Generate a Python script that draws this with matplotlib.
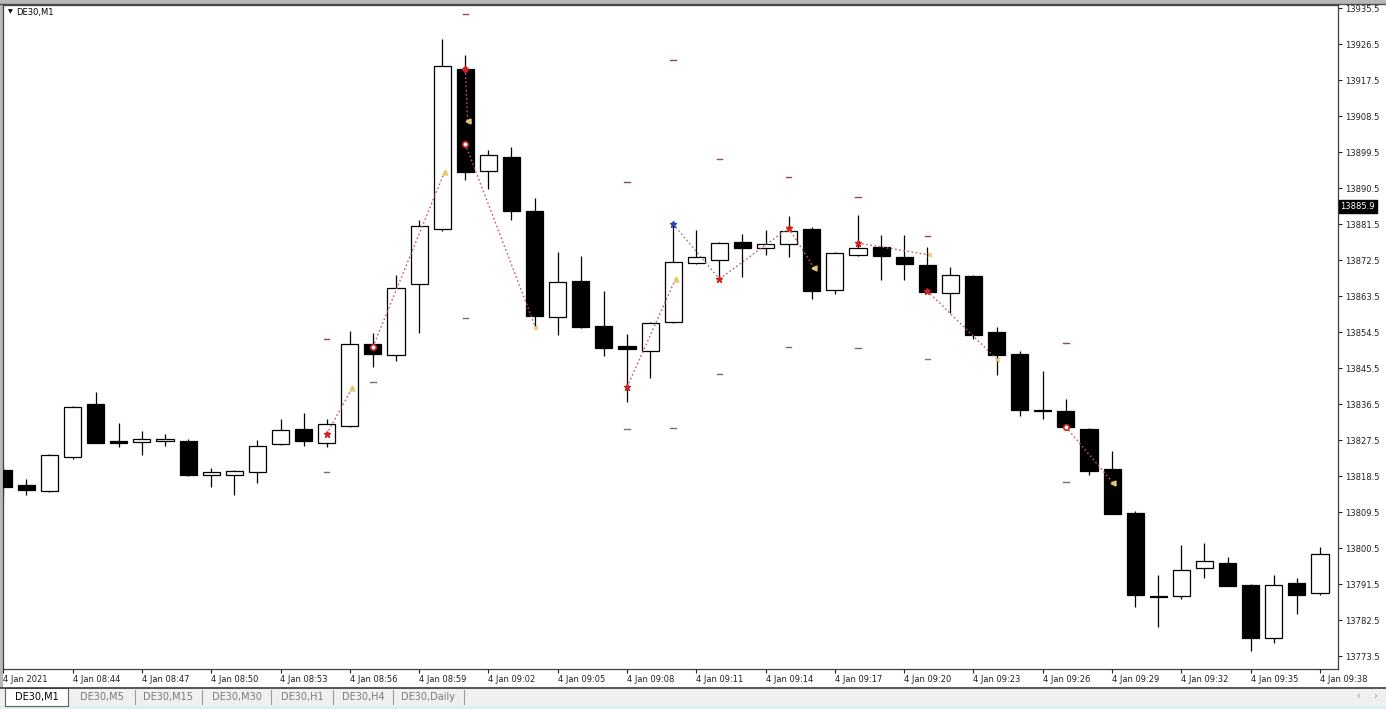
#!/usr/bin/env python3
"""DE30 M1 candlestick chart in MetaTrader style."""

import matplotlib

matplotlib.use("Agg")
import matplotlib.pyplot as plt
from matplotlib.patches import Rectangle
import numpy as np

W, H = 1386, 709

# candle data, one per minute from 08:41 to 09:38
opens = [
    13820.0, 13816.25, 13814.75, 13823.25, 13836.5, 13827.25, 13827.0, 13827.25,
    13827.25, 13818.75, 13818.75, 13819.5, 13826.5, 13830.25, 13826.75, 13831.0,
    13851.5, 13848.75, 13866.5, 13880.25, 13920.25, 13894.75, 13898.25, 13884.75,
    13858.25, 13867.25, 13856.0, 13851.0, 13849.75, 13857.0, 13871.75, 13872.5,
    13877.0, 13875.5, 13876.5, 13880.25, 13865.0, 13873.75, 13875.75, 13873.25,
    13871.25, 13864.25, 13868.5, 13854.5, 13849.0, 13834.8, 13834.75, 13830.25,
    13820.25, 13809.25, 13788.5, 13788.5, 13795.5, 13796.75, 13791.25, 13778.0,
    13791.75, 13789.25]
highs = [
    13820.5, 13817.75, 13824.0, 13836.0, 13839.5, 13831.75, 13829.75, 13829.0,
    13827.75, 13820.5, 13820.0, 13827.5, 13832.75, 13834.25, 13832.75, 13854.75,
    13854.25, 13868.75, 13882.5, 13927.75, 13923.75, 13900.0, 13900.75, 13888.0,
    13874.5, 13873.5, 13864.75, 13854.0, 13857.0, 13882.0, 13880.0, 13877.0,
    13879.0, 13880.0, 13883.5, 13880.75, 13874.5, 13883.75, 13878.75, 13878.75,
    13875.75, 13870.75, 13868.75, 13855.75, 13849.75, 13844.75, 13837.75, 13830.5,
    13824.75, 13809.75, 13793.75, 13801.25, 13801.75, 13798.25, 13791.5, 13793.75,
    13793.0, 13800.75]
lows = [
    13813.5, 13813.75, 13814.5, 13822.75, 13826.75, 13825.75, 13823.75, 13826.0,
    13818.5, 13815.75, 13813.75, 13816.75, 13826.25, 13826.0, 13825.75, 13830.75,
    13845.75, 13847.25, 13854.25, 13879.75, 13892.5, 13890.25, 13882.5, 13856.0,
    13853.75, 13855.5, 13848.5, 13837.0, 13843.0, 13856.75, 13871.5, 13867.75,
    13868.25, 13873.75, 13873.25, 13862.75, 13864.0, 13873.5, 13867.5, 13867.5,
    13864.25, 13859.25, 13852.75, 13843.75, 13833.5, 13832.75, 13830.5, 13818.75,
    13809.0, 13785.75, 13780.75, 13787.75, 13793.0, 13791.0, 13774.75, 13776.75,
    13784.0, 13788.75]
closes = [
    13815.75, 13815.0, 13823.75, 13835.75, 13826.75, 13826.75, 13827.75, 13827.75,
    13818.75, 13819.5, 13819.75, 13826.0, 13830.0, 13827.25, 13831.5, 13851.5,
    13849.0, 13865.5, 13881.0, 13921.0, 13894.5, 13898.75, 13884.75, 13858.5,
    13867.0, 13855.75, 13850.5, 13850.25, 13856.75, 13872.0, 13873.25, 13876.75,
    13875.5, 13876.5, 13879.75, 13864.75, 13874.25, 13875.5, 13873.5, 13871.5,
    13864.5, 13868.75, 13853.75, 13848.75, 13835.0, 13834.7, 13830.75, 13819.75,
    13809.0, 13788.75, 13788.25, 13795.0, 13797.25, 13791.0, 13778.0, 13791.25,
    13788.75, 13799.0]

time_labels = [
    "4 Jan 2021", "4 Jan 08:44", "4 Jan 08:47", "4 Jan 08:50", "4 Jan 08:53",
    "4 Jan 08:56", "4 Jan 08:59", "4 Jan 09:02", "4 Jan 09:05", "4 Jan 09:08",
    "4 Jan 09:11", "4 Jan 09:14", "4 Jan 09:17", "4 Jan 09:20", "4 Jan 09:23",
    "4 Jan 09:26", "4 Jan 09:29", "4 Jan 09:32", "4 Jan 09:35", "4 Jan 09:38"]

price_first, price_last, price_step = 13773.5, 13935.5, 9.0
current_price = 13885.9

# indicator dashes above / below bars
dash_idx = [14, 16, 20, 27, 29, 31, 34, 37, 40, 46]
dash_up = [13852.75, None, 13934.0, 13892.1, 13922.5, 13897.75, 13893.25, 13888.25,
           13878.5, 13851.75]
dash_dn = [13819.5, 13842.0, 13858.0, 13830.25, 13830.5, 13844.0, 13850.75, 13850.5,
           13847.75, 13817.0]

# dotted signal segments: start bar/price -> end bar/price
seg_i0 = [14, 16, 20, 20, 27, 29, 31, 34, 37, 40, 46]
seg_p0 = [13829.0, 13850.75, 13920.25, 13901.5, 13840.75, 13881.5, 13867.75,
          13880.5, 13876.75, 13864.75, 13830.75]
seg_i1 = [15.1, 19.1, 20.1, 23.05, 29.1, 31.0, 34.0, 35.1, 40.1, 43.05, 48.05]
seg_p1 = [13840.5, 13894.5, 13907.25, 13855.5, 13867.75, 13867.75, 13880.5,
          13870.5, 13873.75, 13847.5, 13816.75]
seg_kind = ["*", "o", "D", "o", "*", "b*", "*", "*", "*", "*", "o"]
seg_end = ["^", "^", "<", "x", "^", None, "^", "<", "x", "x", "<"]

tabs = ["DE30,M1", "DE30,M5", "DE30,M15", "DE30,M30", "DE30,H1", "DE30,H4", "DE30,Daily"]
tab_edges = [5, 68, 135, 202, 271, 333, 393, 464]

X0, DX = 3.3, 23.1  # pixel of bar 0 and pixel step per bar
Y0, DY = 8.0, 4.0   # pixel of top price tick and pixels per point


def rect(x0, y0, x1, y1):
  return [x0 / W, 1 - y1 / H, (x1 - x0) / W, (y1 - y0) / H]


plt.rcParams["font.family"] = ["DejaVu Sans"]
fig = plt.figure(figsize=(W / 100, H / 100), dpi=100)
fig.patch.set_facecolor("white")

# window chrome
bg = fig.add_axes([0, 0, 1, 1], zorder=-1)
bg.set_xlim(0, W)
bg.set_ylim(H, 0)
bg.axis("off")
bg.add_patch(Rectangle((0, 0), W, 3, color="#b8b8b8"))
bg.add_patch(Rectangle((0, 0), 2, 688, color="#b8b8b8"))
bg.plot([0, W], [3.5, 3.5], color="#505050", lw=1.0)
bg.add_patch(Rectangle((0, 688), W, 18, color="#f0f0f0"))
bg.add_patch(Rectangle((0, 706), W, 3, color="#dcefef"))
bg.plot([0, W], [687.5, 687.5], color="#3a3a3a", lw=1.2)
bg.add_patch(Rectangle((tab_edges[0], 688), tab_edges[1] - tab_edges[0], 18,
                       facecolor="white", edgecolor="#606060", lw=0.8))
for k, name in enumerate(tabs):
  cx = (tab_edges[k] + tab_edges[k + 1]) / 2
  bg.text(cx, 697, name, ha="center", va="center", fontsize=7,
          color="#000000" if k == 0 else "#7a7a7a")
  if k > 0:
    bg.plot([tab_edges[k + 1], tab_edges[k + 1]], [690, 704], color="#9a9a9a", lw=0.8)
bg.text(1358, 696, "\u2039", ha="center", va="center", fontsize=7, color="#9a9a9a")
bg.text(1375, 696, "\u203a", ha="center", va="center", fontsize=7, color="#9a9a9a")

ax = fig.add_axes(rect(3, 5, 1338, 669))
ax.set_facecolor("white")
ax.set_xlim((3 - X0) / DX, (1338 - X0) / DX)
ax.set_ylim(price_last - (669 - Y0) / DY, price_last + (Y0 - 5) / DY)

xs = np.arange(len(opens))
o = np.array(opens)
c = np.array(closes)
up = c >= o
ax.vlines(xs, lows, highs, color="black", lw=0.9, zorder=2)
bottoms = np.minimum(o, c)
heights = np.maximum(np.abs(c - o), 0.3)
ax.bar(xs, heights, bottom=bottoms, width=0.74,
       color=np.where(up, "white", "black"), edgecolor="black", lw=0.9, zorder=3)

# indicator dashes
for i, pu, pd in zip(dash_idx, dash_up, dash_dn):
  if pu is not None:
    ax.plot([i - 0.12, i + 0.12], [pu, pu], color="#8a5050", lw=1.0, zorder=4)
  ax.plot([i - 0.12, i + 0.12], [pd, pd], color="#6a7284", lw=1.0, zorder=4)

# dotted signal lines and markers
for i0, p0, i1, p1, kind, end in zip(seg_i0, seg_p0, seg_i1, seg_p1, seg_kind, seg_end):
  blue = kind.startswith("b")
  lc = "#7a86b0" if blue else "#b86060"
  ax.plot([i0, i1], [p0, p1], color=lc, lw=1.0, ls=(0, (1.2, 1.8)), zorder=5)
  m = kind[-1]
  mc = "#3040b0" if blue else "#d02020"
  if m == "o":
    ax.plot(i0, p0, marker="o", ms=4, mfc="white", mec=mc, mew=1.2, zorder=6)
  elif m == "D":
    ax.plot(i0, p0, marker="D", ms=3.2, mfc=mc, mec=mc, zorder=6)
  else:
    ax.plot(i0, p0, marker="*", ms=4.5, mfc=mc, mec=mc, zorder=6)
  if end is not None:
    ax.plot(i1, p1, marker=end, ms=3.5, color="#e6c870", mew=1.1, zorder=6)

for side in ax.spines.values():
  side.set_color("#404040")
  side.set_linewidth(0.9)

# price axis on the right
ax.yaxis.tick_right()
ax.set_yticks(np.arange(price_first, price_last + 0.1, price_step))
ax.set_yticklabels([f"{v:.1f}" for v in ax.get_yticks()])
ax.tick_params(axis="y", direction="out", length=3, width=0.8, pad=2,
               labelsize=6, colors="#202020")

# time axis
ax.set_xticks(np.arange(0, len(opens), 3))
ax.set_xticklabels(time_labels)
ax.tick_params(axis="x", direction="out", length=3, width=0.8, pad=1,
               labelsize=6, colors="#202020")
for lbl in ax.get_xticklabels():
  lbl.set_horizontalalignment("left")

ax.text(1.0 + 2.5 / 1335, current_price, f"{current_price:.1f}",
        transform=ax.get_yaxis_transform(), ha="left", va="center",
        fontsize=6, color="white", zorder=10, clip_on=False,
        bbox=dict(boxstyle="square,pad=0.2", facecolor="black", edgecolor="black"))

fig.text(8 / W, 1 - 12 / H, "\u25bc", fontsize=4.5, va="center", ha="left")
fig.text(16 / W, 1 - 12 / H, "DE30,M1", fontsize=6, va="center", ha="left")

fig.savefig("out.png", dpi=100, facecolor="white")
